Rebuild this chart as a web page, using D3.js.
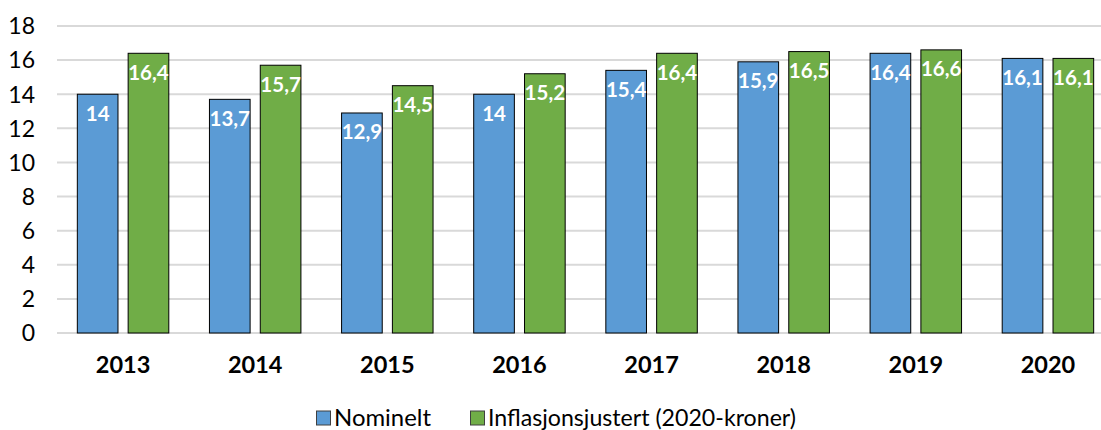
<!DOCTYPE html>
<html><head><meta charset="utf-8">
<script src="https://cdn.jsdelivr.net/npm/d3@7"></script>
<style>body{margin:0;background:#fff;overflow:hidden}svg{display:block}</style>
</head><body><svg id="c" width="1101" height="430"></svg>
<script>
const years = ["2013","2014","2015","2016","2017","2018","2019","2020"];
const nominelt = [14,13.7,12.9,14,15.4,15.9,16.4,16.1];
const justert = [16.4,15.7,14.5,15.2,16.4,16.5,16.6,16.1];
const seriesNames = ["Nominelt","Inflasjonsjustert (2020-kroner)"];
const yTicks = [0,2,4,6,8,10,12,14,16,18];
const colors = ["#5B9BD5","#70AD47"];
const font = "Lato, 'Open Sans', sans-serif";

const svg = d3.select("#c");
const x = d3.scaleBand().domain(years).range([57,1114]).paddingInner(0).paddingOuter(0);
const x1 = d3.scaleBand().domain([0,1]).range([0,x.bandwidth()]).paddingInner(0.2).paddingOuter(0.4);
const y = d3.scaleLinear().domain([0,18]).range([333,26]);

// gridlines
svg.append("g").selectAll("line").data(yTicks).join("line")
  .attr("x1",57).attr("x2",1101).attr("y1",d=>y(d)).attr("y2",d=>y(d))
  .attr("stroke","#D9D9D9").attr("stroke-width",2);

// y tick labels
svg.append("g").selectAll("text").data(yTicks).join("text")
  .attr("x",35).attr("y",d=>y(d)).attr("dy","0.36em").attr("text-anchor","end")
  .attr("font-family",font).attr("font-size",23).attr("fill","#000").text(d=>d);

const data = years.map((yr,i)=>({yr, vals:[nominelt[i],justert[i]]}));
const g = svg.append("g").selectAll("g").data(data).join("g")
  .attr("transform",d=>`translate(${x(d.yr)},0)`);
g.selectAll("rect").data(d=>d.vals.map((v,k)=>({v,k}))).join("rect")
  .attr("x",d=>x1(d.k)).attr("width",x1.bandwidth())
  .attr("y",d=>y(d.v)).attr("height",d=>y(0)-y(d.v))
  .attr("fill",d=>colors[d.k]).attr("stroke","#000").attr("stroke-width",1);
g.selectAll("text.v").data(d=>d.vals.map((v,k)=>({v,k}))).join("text").attr("class","v")
  .attr("x",d=>x1(d.k)+x1.bandwidth()/2).attr("y",d=>y(d.v)+26.5)
  .attr("text-anchor","middle").attr("font-family",font).attr("font-weight","bold")
  .attr("font-size",20.5).attr("fill","#fff")
  .text(d=>String(d.v).replace(".",","));

// x labels
svg.append("g").selectAll("text").data(years).join("text")
  .attr("x",d=>x(d)+x.bandwidth()/2).attr("y",372.5).attr("text-anchor","middle")
  .attr("font-family",font).attr("font-weight","bold").attr("font-size",23.5).attr("fill","#000")
  .text(d=>d);

// legend
const legX = [316,470];
const legW = [97,308];
const lg = svg.append("g").selectAll("g").data(seriesNames).join("g")
  .attr("transform",(d,i)=>`translate(${legX[i]},0)`);
lg.append("rect").attr("x",0.5).attr("y",411).attr("width",14).attr("height",14)
  .attr("fill",(d,i)=>colors[i]).attr("stroke","#404040").attr("stroke-width",1);
lg.append("text").attr("x",18).attr("y",426).attr("font-family",font).attr("font-size",23)
  .attr("fill","#000").attr("textLength",(d,i)=>legW[i]).attr("lengthAdjust","spacingAndGlyphs")
  .text(d=>d);
</script></body></html>
